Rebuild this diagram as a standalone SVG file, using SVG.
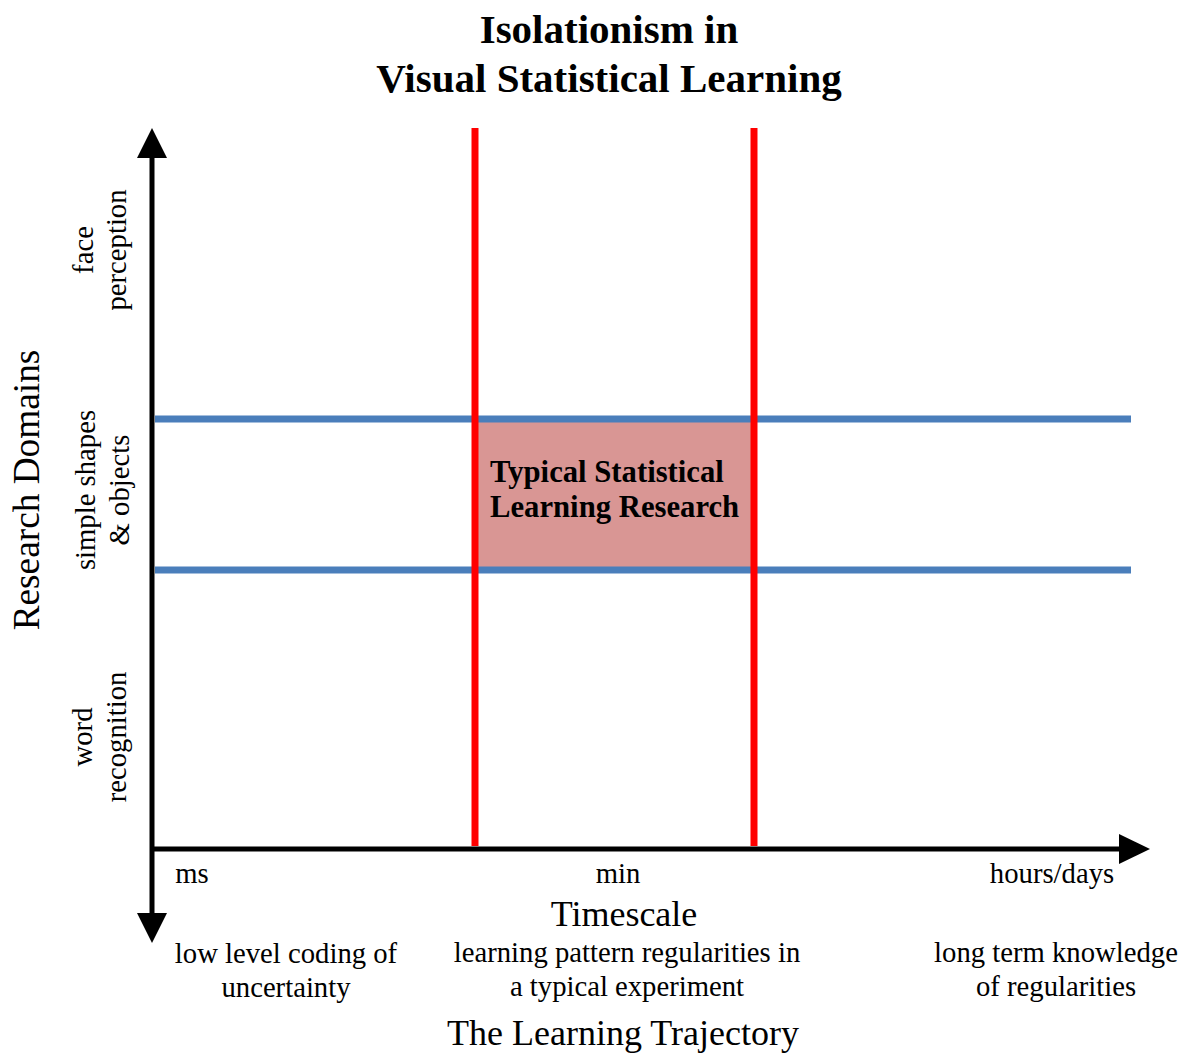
<svg xmlns="http://www.w3.org/2000/svg" width="1187" height="1054" viewBox="0 0 1187 1054">
<style>
text{font-family:"Liberation Serif","Times New Roman",serif;fill:#000}
.t{font-size:41px;font-weight:bold;text-anchor:middle}
.b{font-size:30.7px;font-weight:bold}
.l{font-size:28.7px;text-anchor:middle}
.big{font-size:36px;text-anchor:middle}
.blue{stroke:#4a7ebb;stroke-width:7}
.red{stroke:#ff0000;stroke-width:7}
.axis{stroke:#000;stroke-width:5}
</style>
<rect width="1187" height="1054" fill="#fff"/>
<g id="title">
<text class="t" x="609" y="43">Isolationism in</text>
<text class="t" x="609" y="92">Visual Statistical Learning</text>
</g>
<g id="box">
<rect x="475" y="419" width="279" height="151" fill="#d99694"/>
<text class="b" x="490" y="482">Typical Statistical</text>
<text class="b" x="490" y="517">Learning Research</text>
</g>
<g id="connectors">
<line class="blue" x1="155" y1="419" x2="1131" y2="419"/>
<line class="blue" x1="155" y1="570" x2="1131" y2="570"/>
<line class="red" x1="475" y1="128" x2="475" y2="846"/>
<line class="red" x1="754" y1="128" x2="754" y2="846"/>
<line class="axis" x1="152" y1="155" x2="152" y2="916"/>
<line class="axis" x1="150" y1="849" x2="1122" y2="849"/>
<polygon points="152,128 167,158 137,158" fill="#000"/>
<polygon points="152,943 167,913 137,913" fill="#000"/>
<polygon points="1150,849 1119,834 1119,864" fill="#000"/>
</g>
<g id="y-labels">
<text class="big" transform="translate(39,490) rotate(-90)" style="font-size:37.3px">Research Domains</text>
<text class="l" transform="translate(93,250) rotate(-90)">face</text>
<text class="l" transform="translate(126,250) rotate(-90)">perception</text>
<text class="l" transform="translate(95,490) rotate(-90)">simple shapes</text>
<text class="l" transform="translate(129,490) rotate(-90)">&amp; objects</text>
<text class="l" transform="translate(92,737) rotate(-90)">word</text>
<text class="l" transform="translate(126,737) rotate(-90)">recognition</text>
</g>
<g id="x-labels">
<text class="l" x="192" y="883">ms</text>
<text class="l" x="618" y="883">min</text>
<text class="l" x="1052" y="883">hours/days</text>
<text class="big" x="624" y="926">Timescale</text>
<text class="l" x="286" y="963">low level coding of</text>
<text class="l" x="286" y="997">uncertainty</text>
<text class="l" x="627" y="962">learning pattern regularities in</text>
<text class="l" x="627" y="996">a typical experiment</text>
<text class="l" x="1056" y="962">long term knowledge</text>
<text class="l" x="1056" y="996">of regularities</text>
<text class="big" x="623" y="1045">The Learning Trajectory</text>
</g>
</svg>
